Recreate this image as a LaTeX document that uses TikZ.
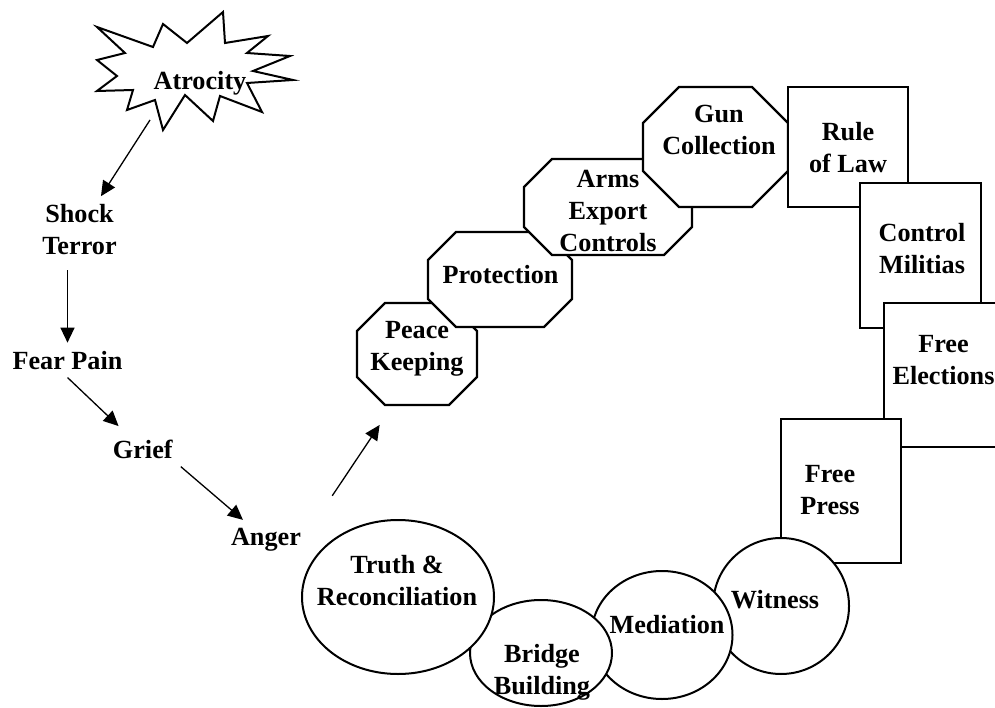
\documentclass[tikz,border=0pt]{standalone}
\usepackage{fontspec}
\setmainfont{Liberation Serif}
\usetikzlibrary{shapes.geometric, arrows.meta}

\begin{document}
\begin{tikzpicture}[
    x=1pt, y=-1pt,
    every node/.style={font=\fontsize{26.2}{32}\selectfont\bfseries, align=center},
    word/.style={inner sep=8pt},
    lbl/.style={inner sep=0pt},
    burst/.style={draw=black, line width=2pt},
    octa/.style={draw=black, line width=2.2pt, fill=white},
    box/.style={rectangle, draw=black, line width=2.2pt, fill=white, inner sep=0pt},
    oval/.style={ellipse, draw=black, line width=2pt, fill=white, inner sep=0pt},
    arrow/.style={-{Triangle[length=15pt, width=14pt]}, line width=1.3pt}
]
\useasboundingbox (0,0) rectangle (995,708);
\clip (0,0) rectangle (995,708);

% STARBURST
\draw[burst] (97,27) -- (153,47) -- (163,24) -- (187,43) -- (223,12) -- (225,43)
    -- (268,36) -- (247,53) -- (290,56) -- (253,71) -- (293,80) -- (247,83)
    -- (262,112) -- (220,96) -- (213,121) -- (185,95) -- (163,130) -- (155,100)
    -- (127,110) -- (133,90) -- (97,91) -- (117,76) -- (97,60) -- (125,53) -- cycle;
\coordinate (burst tip) at (150,120);

% NODES
\node[lbl] (atrocity) at (200,83) {Atrocity};
\node[word] (shock) at (79.5,229.6) {Shock\\Terror};
\node[word] (fear) at (67.5,360.1) {Fear Pain};
\node[word] (grief) at (142.8,449.1) {Grief};
\node[word] (anger) at (266,539.6) {Anger};

% OCTAGONS (back to front)
\draw[octa] (385,303) -- (449,303) -- (477,331) -- (477,377) -- (449,405) -- (385,405) -- (357,377) -- (357,331) -- cycle;
\coordinate (peace base) at (393,405);
\draw[octa] (456,232) -- (544,232) -- (572,260) -- (572,299) -- (544,327) -- (456,327) -- (428,299) -- (428,260) -- cycle;
\draw[octa] (552,159) -- (664,159) -- (692,187) -- (692,227) -- (664,255) -- (552,255) -- (524,227) -- (524,187) -- cycle;
\draw[octa] (679,87) -- (752,87) -- (788,123) -- (788,171) -- (752,207) -- (679,207) -- (643,171) -- (643,123) -- cycle;

% BOXES AND OVALS (back to front)
\node[box, minimum width=120pt, minimum height=120pt] (rule) at (848,147) {};
\node[box, minimum width=121pt, minimum height=145pt] (militias) at (920.5,255.5) {};
\node[box, minimum width=120pt, minimum height=144pt] (elections) at (944,375) {};
\node[box, minimum width=120pt, minimum height=144pt] (press) at (841,491) {};
\node[oval, minimum width=136pt, minimum height=136pt] (witness) at (781,606) {};
\node[oval, minimum width=141pt, minimum height=128pt] (mediation) at (662,635) {};
\node[oval, minimum width=142pt, minimum height=106pt] (bridge) at (541,653) {};
\node[oval, minimum width=192pt, minimum height=154pt] (truth) at (398,597) {};

% LABELS
\node[lbl] (peace text) at (417,348.5) {Peace\\Keeping};
\node[lbl] (protection text) at (500.5,274.1) {Protection};
\node[lbl] (arms text) at (608,211) {Arms\\Export\\Controls};
\node[lbl] (gun text) at (719,129.6) {Gun\\Collection};
\node[lbl] (rule text) at (848,147.6) {Rule\\of Law};
\node[lbl] (militias text) at (922,249) {Control\\Militias};
\node[lbl] (elections text) at (943.5,359.6) {Free\\Elections};
\node[lbl] (press text) at (830,490) {Free\\Press};
\node[lbl] (witness text) at (775,600) {Witness};
\node[lbl] (mediation text) at (667,625) {Mediation};
\node[lbl] (bridge text) at (542,672.5) {Bridge\\Building};
\node[lbl] (truth text) at (397,581) {Truth \&\\Reconciliation};

% ARROWS
\draw[arrow] (burst tip) -- (shock);
\draw[arrow, shorten <=7pt] (shock.south -| fear.north) -- (fear.north);
\draw[arrow, shorten >=8pt] (fear.south) -- (grief);
\draw[arrow] (grief.south east) -- (anger);
\draw[arrow, shorten <=29pt, shorten >=24pt] ([xshift=7pt]anger.north east) -- (peace base);

\end{tikzpicture}
\end{document}
